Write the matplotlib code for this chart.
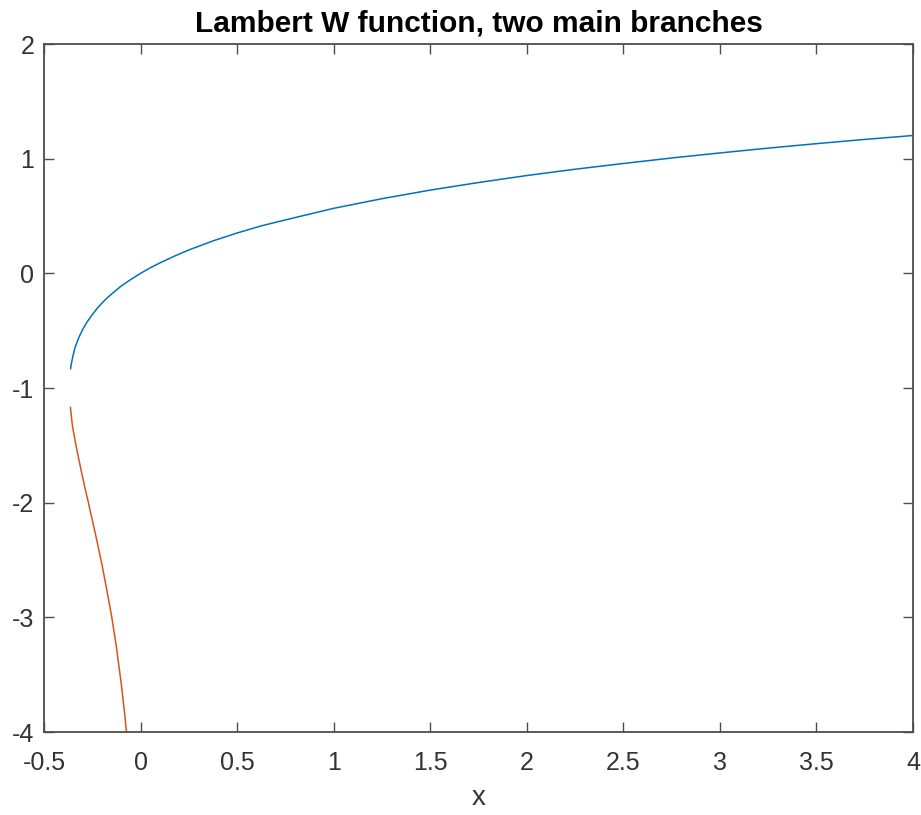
import matplotlib
matplotlib.use("Agg")
import matplotlib.pyplot as plt

# principal branch W0
w0_x = [-0.362, -0.36, -0.355, -0.35, -0.34, -0.33, -0.32, -0.3, -0.28, -0.25, -0.22, -0.2,
        -0.175, -0.15, -0.1, -0.05, -0.025, 0.0, 0.05, 0.1, 0.175, 0.25, 0.375, 0.5, 0.625,
        0.75, 1.0, 1.25, 1.5, 1.75, 2.0, 2.25, 2.5, 2.75, 3.0, 3.25, 3.5, 3.75, 4.0]
w0_y = [-0.83, -0.80, -0.76, -0.72, -0.65, -0.604, -0.56, -0.49, -0.431, -0.36, -0.296, -0.26,
        -0.217, -0.18, -0.11, -0.053, -0.026, 0.0, 0.048, 0.091, 0.150, 0.204, 0.283, 0.352, 0.414,
        0.466, 0.567, 0.651, 0.726, 0.792, 0.853, 0.908, 0.958, 1.006, 1.050, 1.092, 1.131,
        1.168, 1.202]

# lower branch W-1
wm1_x = [-0.363, -0.362, -0.36, -0.355, -0.35, -0.345, -0.34, -0.33, -0.32, -0.31, -0.3,
         -0.29, -0.28, -0.27, -0.26, -0.25, -0.225, -0.2, -0.175, -0.15, -0.125, -0.1,
         -0.085, -0.073]
wm1_y = [-1.17, -1.19, -1.22, -1.30, -1.36, -1.40, -1.45, -1.54, -1.62, -1.70, -1.78,
         -1.855, -1.93, -2.0, -2.08, -2.15, -2.34, -2.54, -2.76, -2.99, -3.26, -3.58,
         -3.80, -4.0]

title = "Lambert W function, two main branches"
xticks = [-0.5, 0, 0.5, 1, 1.5, 2, 2.5, 3, 3.5, 4]
xtick_labels = ["-0.5", "0", "0.5", "1", "1.5", "2", "2.5", "3", "3.5", "4"]
yticks = [-4, -3, -2, -1, 0, 1, 2]
ytick_labels = ["-4", "-3", "-2", "-1", "0", "1", "2"]

plt.rcParams["font.family"] = ["Liberation Sans", "DejaVu Sans"]

fig = plt.figure(figsize=(9.21, 8.15), dpi=100)
ax = fig.add_axes([0.0478, 0.1018, 0.9435, 0.8442])

ax.plot(w0_x, w0_y, color="#0072BD", lw=1.1)
ax.plot(wm1_x, wm1_y, color="#D95319", lw=1.1)

ax.set_xlim(-0.5, 4)
ax.set_ylim(-4, 2)
ax.set_xticks(xticks)
ax.set_xticklabels(xtick_labels)
ax.set_yticks(yticks)
ax.set_yticklabels(ytick_labels)

gray = "#333333"
for s in ax.spines.values():
    s.set_color("#4d4d4d")
    s.set_linewidth(1.3)
ax.tick_params(direction="in", length=7, width=1.0, color="#4d4d4d",
               labelcolor=gray, labelsize=18, top=True, right=True,
               labeltop=False, labelright=False)
ax.tick_params(axis="x", pad=14)
ax.tick_params(axis="y", pad=7)

ax.set_title(title, fontsize=21.5, fontweight="bold", color="black", pad=9)
ax.set_xlabel("x", fontsize=20, color=gray, labelpad=7)

fig.savefig("out.png", dpi=100)
